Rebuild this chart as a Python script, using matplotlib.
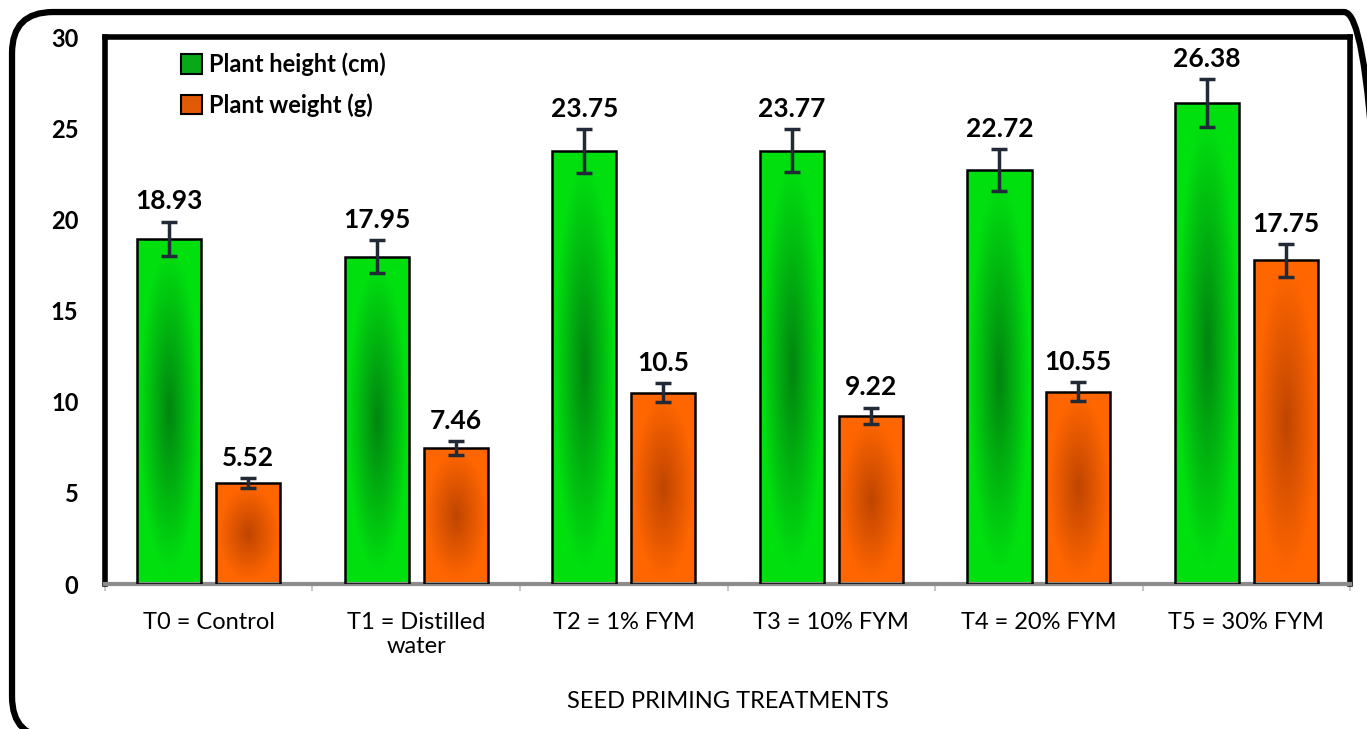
import numpy as np
import matplotlib
matplotlib.use('Agg')
import matplotlib.pyplot as plt
from matplotlib.patches import Patch, FancyBboxPatch

plt.rcParams['font.family'] = ['Lato', 'DejaVu Sans']

# ---- data ----
treatments = ['T0 = Control', 'T1 = Distilled\nwater', 'T2 = 1% FYM',
              'T3 = 10% FYM', 'T4 = 20% FYM', 'T5 = 30% FYM']
height_cm = [18.93, 17.95, 23.75, 23.77, 22.72, 26.38]
height_err = [0.95, 0.90, 1.19, 1.19, 1.14, 1.32]
weight_g = [5.52, 7.46, 10.5, 9.22, 10.55, 17.75]
weight_err = [0.28, 0.37, 0.52, 0.46, 0.53, 0.89]
value_labels_h = ['18.93', '17.95', '23.75', '23.77', '22.72', '26.38']
value_labels_w = ['5.52', '7.46', '10.5', '9.22', '10.55', '17.75']

fig = plt.figure(figsize=(13.67, 7.29), dpi=100)
ax = fig.add_axes([0.0768, 0.1989, 0.9108, 0.7503])

# outer rounded frame (runs just off the right and bottom edges)
frame = FancyBboxPatch((0.0088, -0.012), 1.0045, 0.9955, boxstyle='round,pad=0,rounding_size=0.03',
                       transform=fig.transFigure, fill=False, lw=4.5, ec='black',
                       mutation_aspect=1367 / 729)
fig.patches.append(frame)

x = np.arange(len(treatments))
w = 0.31
off = 0.19


def gradient_bars(xs, vals, edge_rgb, center_rgb):
    bars = ax.bar(xs, vals, w, facecolor='none', edgecolor='black', lw=1.8, zorder=3)
    yy, xx = np.mgrid[0:1:200j, -1:1:60j]
    for b in bars:
        h = b.get_height()
        r = np.sqrt(xx ** 2 + ((yy - 0.5) / 0.5) ** 2) / np.sqrt(2)
        r = np.clip(r * 1.5, 0, 1)
        img = np.zeros(r.shape + (3,))
        for c in range(3):
            img[..., c] = center_rgb[c] * (1 - r) + edge_rgb[c] * r
        im = ax.imshow(img, extent=[b.get_x(), b.get_x() + w, 0, h], origin='lower',
                       aspect='auto', zorder=2, interpolation='bilinear')
        im.set_clip_path(b)
    return bars


gradient_bars(x - off, height_cm, (0.0, 0.88, 0.06), (0.0, 0.52, 0.06))
gradient_bars(x + off, weight_g, (1.0, 0.40, 0.0), (0.75, 0.27, 0.0))

ax.errorbar(x - off, height_cm, yerr=height_err, fmt='none', ecolor='#222a38',
            elinewidth=2.5, capsize=5.5, capthick=2.5, zorder=4)
ax.errorbar(x + off, weight_g, yerr=weight_err, fmt='none', ecolor='#222a38',
            elinewidth=2.5, capsize=5.5, capthick=2.5, zorder=4)

for i in range(len(x)):
    ax.text(x[i] - off, height_cm[i] + height_err[i] + 0.45, value_labels_h[i],
            ha='center', va='bottom', fontsize=19, fontweight='bold')
    ax.text(x[i] + off, weight_g[i] + weight_err[i] + 0.45, value_labels_w[i],
            ha='center', va='bottom', fontsize=19, fontweight='bold')

ax.set_xlim(-0.5, 5.5)
ax.set_ylim(0, 30)
ax.set_yticks([0, 5, 10, 15, 20, 25, 30])
ax.tick_params(axis='y', length=0, pad=19, labelsize=17)
ax.set_xticks(x)
ax.set_xticklabels(treatments, fontsize=17)
ax.tick_params(axis='x', length=0, pad=20)
ax.set_xticks(np.arange(-0.5, 6.0, 1.0), minor=True)
ax.tick_params(axis='x', which='minor', length=5, width=1.5, color='#c8c8c8')
for lbl in ax.get_yticklabels():
    lbl.set_fontweight('bold')
ax.set_xlabel('SEED PRIMING TREATMENTS', fontsize=17, labelpad=24)

for s in ['left', 'top', 'right']:
    ax.spines[s].set_linewidth(4)
    ax.spines[s].set_color('black')
ax.spines['bottom'].set_linewidth(3)
ax.spines['bottom'].set_color('#8c8c8c')

handles = [Patch(facecolor='#08a818', edgecolor='black', lw=1.5),
           Patch(facecolor='#e05a08', edgecolor='black', lw=1.5)]
ax.legend(handles, ['Plant height (cm)', 'Plant weight (g)'], loc='upper left',
          bbox_to_anchor=(0.044, 1.01), frameon=False,
          handlelength=0.9, handleheight=0.9, handletextpad=0.3, labelspacing=0.7,
          prop={'weight': 'bold', 'size': 17})

fig.savefig('out.png', dpi=100)
